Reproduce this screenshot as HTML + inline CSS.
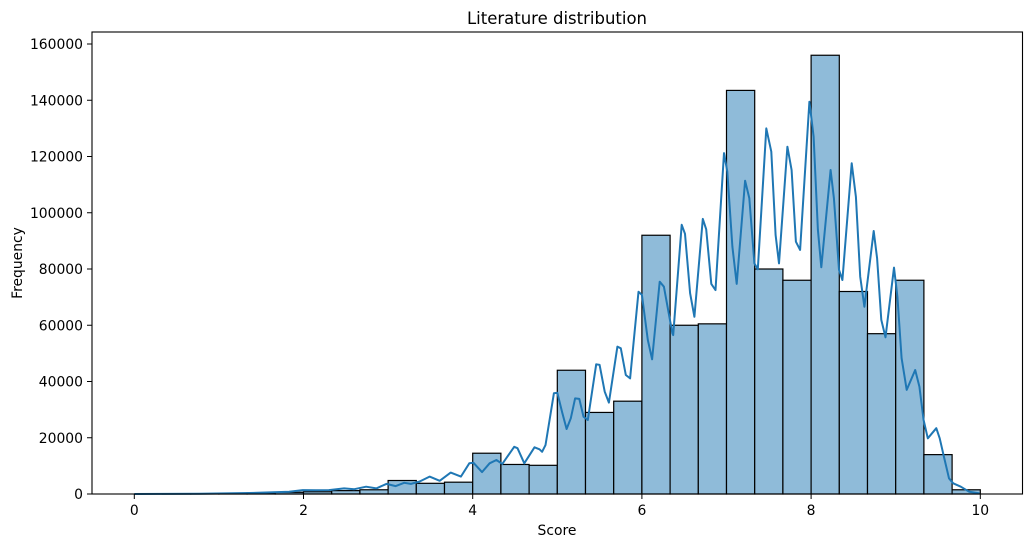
<!DOCTYPE html>
<html><head><meta charset="utf-8"><style>
body{margin:0;background:#fff;font-family:"DejaVu Sans",sans-serif;}
svg text{font-family:"DejaVu Sans",sans-serif;fill:#000;}
</style></head><body>
<svg id="chart" width="1032" height="547" xmlns="http://www.w3.org/2000/svg">
<text x="557" y="24" font-size="16.5" text-anchor="middle">Literature distribution</text>
<g id="bars"></g>
<path id="kde" fill="none" stroke="#1f77b4" stroke-width="2" stroke-linejoin="round"/>
<rect x="92" y="32" width="930.5" height="462" fill="none" stroke="#000" stroke-width="1.1"/>
<g id="xticks"></g>
<g id="yticks"></g>
<text x="557" y="535" font-size="13.9" text-anchor="middle">Score</text>
<text x="22" y="263" font-size="13.9" text-anchor="middle" transform="rotate(-90 22 263)">Frequency</text>
</svg>
<script>
const binCounts=[0,50,100,200,400,600,800,1200,1500,4800,3800,4200,14500,10500,10200,44000,29000,33000,92000,60000,60500,143500,80000,76000,156000,72000,57000,76000,14000,1500];
const kdeScores=[0,0.77,1.36,1.83,1.99,2.15,2.30,2.48,2.60,2.74,2.86,2.98,3.09,3.19,3.27,3.37,3.49,3.61,3.74,3.86,3.96,4.01,4.11,4.20,4.28,4.35,4.49,4.53,4.61,4.73,4.79,4.82,4.86,4.96,5.00,5.06,5.11,5.16,5.21,5.26,5.31,5.36,5.46,5.50,5.56,5.61,5.71,5.75,5.81,5.86,5.96,6.00,6.07,6.12,6.21,6.26,6.36,6.37,6.47,6.51,6.57,6.62,6.72,6.76,6.82,6.87,6.97,7.01,7.07,7.12,7.22,7.27,7.33,7.37,7.47,7.53,7.58,7.62,7.72,7.77,7.82,7.87,7.98,8.03,8.08,8.12,8.23,8.27,8.33,8.37,8.48,8.53,8.58,8.63,8.74,8.78,8.83,8.88,8.98,9.02,9.07,9.13,9.23,9.28,9.33,9.38,9.48,9.52,9.57,9.63,9.68,9.77,9.87,9.99];
const kdeValues=[0,0.07,0.36,0.8,1.4,1.3,1.4,2.0,1.7,2.6,2.0,3.6,2.8,4.0,3.6,4.4,6.2,4.7,7.6,6.2,10.9,11.1,7.8,10.9,12.1,10.7,16.8,16.3,10.9,16.6,15.9,15.0,17.4,35.8,36.0,28.7,23.1,26.9,34.0,33.8,27.5,26.3,46.1,45.9,36.4,32.5,52.4,51.8,42.3,41.1,71.9,70.8,54.8,47.9,75.5,73.7,57.1,56.5,95.7,92.5,71.4,63.0,97.8,94.1,74.7,72.5,121.2,114.6,87.9,74.7,111.4,105.2,82.0,79.9,130.0,121.7,92.1,82.0,123.5,115.2,89.7,86.8,139.5,127.1,93.9,80.6,115.2,105.2,79.7,76.1,117.6,105.7,77.3,66.6,93.5,83.8,61.9,55.7,80.5,70.2,48.3,37.0,44.1,38.2,26.3,19.8,23.4,19.8,13.3,5.6,3.8,2.6,0.8,0.2];
const xTicks=[0,2,4,6,8,10];
const yTicks=[0,20000,40000,60000,80000,100000,120000,140000,160000];
const NS="http://www.w3.org/2000/svg";
const X=s=>134.3+s*84.6;
const Y=v=>494-v*450/160000;
const bars=document.getElementById('bars');
binCounts.forEach((c,i)=>{
  const r=document.createElementNS(NS,'rect');
  const x0=X(i/3),x1=X((i+1)/3);
  r.setAttribute('x',x0);r.setAttribute('width',x1-x0);
  r.setAttribute('y',Y(c));r.setAttribute('height',494-Y(c));
  r.setAttribute('fill','#8fbbd9');r.setAttribute('stroke','#000');r.setAttribute('stroke-width','1.2');
  
  
  bars.appendChild(r);
});
document.getElementById('kde').setAttribute('d',kdeScores.map((s,i)=>(i?'L':'M')+X(s).toFixed(1)+','+Y(kdeValues[i]*1000).toFixed(1)).join(''));
const xg=document.getElementById('xticks');
xTicks.forEach(t=>{
  const l=document.createElementNS(NS,'line');
  l.setAttribute('x1',X(t));l.setAttribute('x2',X(t));l.setAttribute('y1',494);l.setAttribute('y2',499);l.setAttribute('stroke','#000');
  
  
  xg.appendChild(l);
  const tx=document.createElementNS(NS,'text');
  tx.setAttribute('x',X(t));tx.setAttribute('y',515);tx.setAttribute('font-size','13.9');tx.setAttribute('text-anchor','middle');
  tx.textContent=t;
  
  
  xg.appendChild(tx);
});
const yg=document.getElementById('yticks');
yTicks.forEach(t=>{
  const l=document.createElementNS(NS,'line');
  l.setAttribute('x1',87);l.setAttribute('x2',92);l.setAttribute('y1',Y(t));l.setAttribute('y2',Y(t));l.setAttribute('stroke','#000');
  
  
  yg.appendChild(l);
  const tx=document.createElementNS(NS,'text');
  tx.setAttribute('x',83);tx.setAttribute('y',Y(t)+5);tx.setAttribute('font-size','13.9');tx.setAttribute('text-anchor','end');
  tx.textContent=t;
  
  
  yg.appendChild(tx);
});
</script>
</body></html>
